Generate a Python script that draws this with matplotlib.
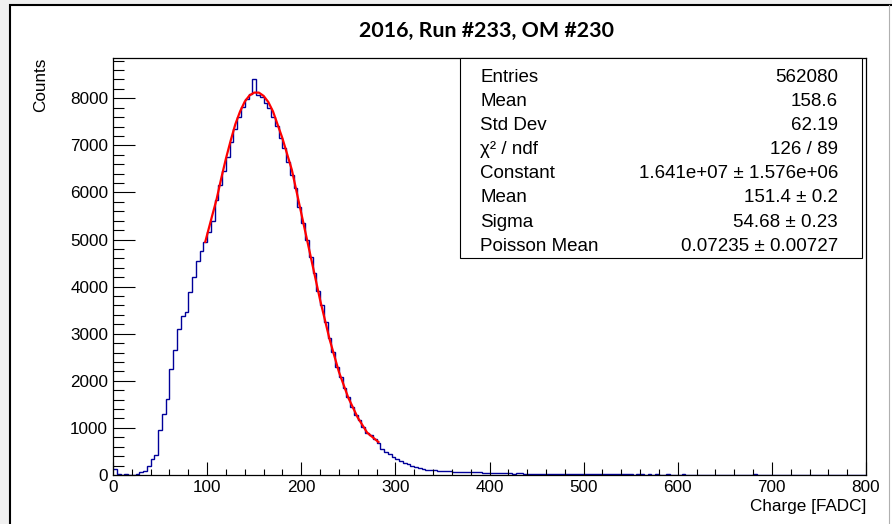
import matplotlib.pyplot as plt
from matplotlib.patches import Rectangle
from matplotlib.ticker import MultipleLocator
import numpy as np

# histogram of charge, 4 FADC per bin, 0 -> 800
bin_width = 4
counts = [
    130, 25, 10, 15, 5, 10, 25, 70, 80, 200,
    330, 420, 950, 1300, 1620, 2250, 2650, 3100, 3380, 3470,
    3880, 4200, 4550, 4750, 4950, 5150, 5400, 5850, 6150, 6450,
    6750, 7080, 7350, 7600, 7820, 7980, 8100, 8400, 8070, 8030,
    7900, 7800, 7600, 7420, 7150, 6950, 6650, 6380, 6100, 5700,
    5350, 5000, 4620, 4300, 3900, 3600, 3250, 2900, 2620, 2300,
    2080, 1850, 1650, 1450, 1280, 1160, 1020, 900, 840, 760,
    680, 550, 480, 440, 380, 340, 300, 260, 230, 190,
    165, 145, 125, 115, 110, 100, 95, 88, 82, 78,
    74, 70, 68, 65, 62, 60, 58, 55, 50, 45,
    42, 40, 38, 36, 40, 35, 30, 38, 32, 28,
    30, 26, 28, 24, 22, 25, 20, 24, 18, 22,
    20, 18, 16, 20, 15, 17, 14, 18, 15, 13,
    14, 16, 12, 15, 13, 11, 14, 12, 10, 13,
    12, 10, 11, 9, 12, 10, 8, 11, 9, 10,
    9, 11, 8, 10, 7, 9, 8, 10, 7, 8,
    8, 7, 9, 6, 8, 7, 6, 8, 6, 7,
    12, 6, 7, 5, 6, 7, 5, 6, 4, 6,
    5, 6, 4, 5, 6, 4, 5, 3, 5, 4,
    4, 5, 3, 4, 5, 3, 4, 3, 4, 3,
]

# fit curve
fit_x = [98, 105, 110, 115, 120, 125, 130, 135, 140, 145, 150, 155, 160, 165, 170,
         180, 190, 200, 210, 220, 230, 240, 250, 260, 270, 282]
fit_y = [4950, 5480, 5850, 6300, 6720, 7100, 7450, 7720, 7930, 8060, 8120, 8120, 8050, 7920, 7720,
         7150, 6480, 5560, 4640, 3720, 2890, 2190, 1640, 1220, 900, 700]

stat_names = ["Entries", "Mean", "Std Dev", "\u03c7\u00b2 / ndf", "Constant", "Mean", "Sigma", "Poisson Mean"]
stat_values = ["562080", "158.6", "62.19", "126 / 89", "1.641e+07 \u00b1 1.576e+06",
               "151.4 \u00b1 0.2", "54.68 \u00b1 0.23", "0.07235 \u00b1 0.00727"]

W, H = 892, 524
def fx(px):
    return px / W
def fy(py):
    return 1 - py / H

plt.rcParams['font.family'] = ['Liberation Sans', 'DejaVu Sans']

fig = plt.figure(figsize=(W / 100, H / 100), dpi=100, facecolor='#f0f0f0')
# canvas window (behind the axes)
fig.add_artist(Rectangle((fx(10), -0.02), 1.0, fy(5) + 0.02, transform=fig.transFigure,
                         facecolor='white', edgecolor='black', lw=1.5, zorder=-10))
fig.add_artist(plt.Line2D([fx(888.5), fx(888.5)], [0, fy(5)], transform=fig.transFigure,
                          color='#b0b0b0', lw=0.8, zorder=-5))

ax = fig.add_axes([fx(113), fy(475), fx(866) - fx(113), fy(58) - fy(475)])
ax.set_facecolor('white')

edges = np.arange(len(counts) + 1) * bin_width
ax.stairs(counts, edges, color='#000099', lw=1.0, baseline=None)
ax.plot(fit_x, fit_y, color='#ff0000', lw=1.6)

ax.set_xlim(0, 800)
ax.set_ylim(0, 8855)
ax.xaxis.set_major_locator(MultipleLocator(100))
ax.xaxis.set_minor_locator(MultipleLocator(20))
ax.yaxis.set_major_locator(MultipleLocator(1000))
ax.yaxis.set_minor_locator(MultipleLocator(200))
ax.tick_params(axis='x', which='major', direction='in', length=9.1, width=0.8, pad=3.5, labelsize=12.3)
ax.tick_params(axis='x', which='minor', direction='in', length=4.3, width=0.8)
ax.tick_params(axis='y', which='major', direction='in', length=15.6, width=0.8, pad=3.5, labelsize=12.3)
ax.tick_params(axis='y', which='minor', direction='in', length=7.7, width=0.8)
for s in ax.spines.values():
    s.set_linewidth(0.9)

fig.text(fx(487), fy(31), "2016, Run #233, OM #230", ha='center', va='center',
         fontsize=15.4, fontweight='bold', family=['Lato', 'DejaVu Sans'])
fig.text(fx(48), fy(58), "Counts", rotation=90, ha='right', va='top', fontsize=12.3)
fig.text(fx(866), fy(507), "Charge [FADC]", ha='right', va='center', fontsize=12.3)

# stats box (above the axes)
fig.add_artist(Rectangle((fx(460), fy(258)), fx(862) - fx(460), fy(58) - fy(258),
                         transform=fig.transFigure, facecolor='white', edgecolor='black',
                         lw=0.8, zorder=5))
for i, (n, v) in enumerate(zip(stat_names, stat_values)):
    yy = 77 + i * 24.2
    fig.text(fx(480), fy(yy), n, ha='left', va='center', fontsize=13.5, zorder=6)
    fig.text(fx(838), fy(yy), v, ha='right', va='center', fontsize=13.5, zorder=6)

fig.savefig("out.png", dpi=100, facecolor=fig.get_facecolor())
